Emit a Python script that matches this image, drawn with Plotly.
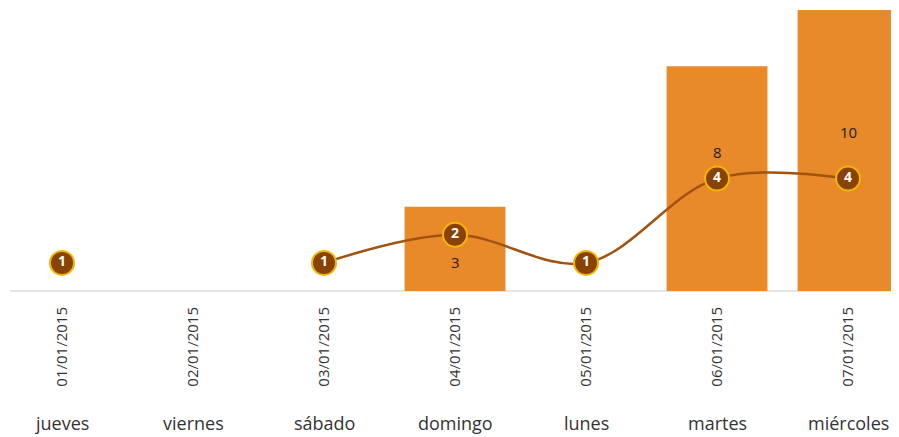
import plotly.graph_objects as go

dates = ["01/01/2015", "02/01/2015", "03/01/2015", "04/01/2015", "05/01/2015", "06/01/2015", "07/01/2015"]
days = ["jueves", "viernes", "sábado", "domingo", "lunes", "martes", "miércoles"]
bar_values = [0, 0, 0, 3, 0, 8, 10]
line_values = [1, None, 1, 2, 1, 4, 4]
bar_label_y = [None, None, None, 1.03, None, 4.95, 5.66]

x = list(range(len(dates)))
FONT = "'Open Sans', Lato, sans-serif"

fig = go.Figure()
fig.add_trace(go.Bar(
    x=x, y=bar_values, width=0.77,
    marker=dict(color="#E8892A", line=dict(width=0)),
    hoverinfo="skip",
))
fig.add_trace(go.Scatter(
    x=x, y=line_values, mode="lines+markers+text",
    line=dict(color="#A0520F", width=2.5, shape="spline", smoothing=1.0),
    connectgaps=False,
    marker=dict(size=24, color="#8A4200", line=dict(color="#F2B705", width=2)),
    text=[("" if v is None else str(v)) for v in line_values],
    textposition="middle center",
    textfont=dict(color="white", size=14, family=FONT, weight="bold"),
    hoverinfo="skip",
))

for i, (v, ly) in enumerate(zip(bar_values, bar_label_y)):
    if v and ly is not None:
        fig.add_annotation(x=i, y=ly, text=str(v), showarrow=False,
                           font=dict(size=15, color="#222", family=FONT))

for i, d in enumerate(days):
    fig.add_annotation(x=i, y=-0.466, xref="x", yref="paper", text=d, showarrow=False,
                       yanchor="middle",
                       font=dict(size=18, color="#333", family=FONT))

fig.update_layout(
    width=891, height=429,
    margin=dict(l=2, r=0, t=0, b=146),
    plot_bgcolor="white", paper_bgcolor="white",
    showlegend=False,
)
fig.update_xaxes(
    range=[-0.397, 6.389], tickvals=x, ticktext=dates, tickangle=-90,
    tickfont=dict(size=15, color="#333", family=FONT),
    showgrid=False, zeroline=False, showline=False, ticks="",
    ticklabelstandoff=12,
)
fig.update_yaxes(
    range=[0, 10.07], showgrid=False, zeroline=True, zerolinecolor="#E6E6E6", zerolinewidth=2,
    showticklabels=False, showline=False,
)

fig.write_html("out.html")
